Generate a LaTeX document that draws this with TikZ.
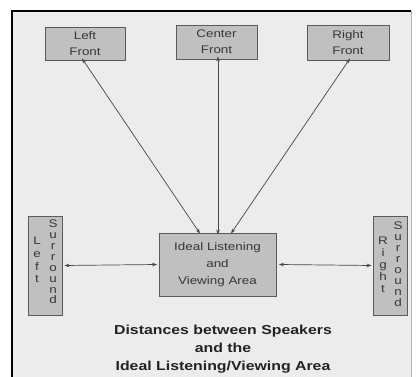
\documentclass[tikz,border=0pt]{standalone}
\usepackage{fontspec}
\setmainfont{Liberation Sans}[FakeStretch=1.22]
\usetikzlibrary{arrows.meta}
\definecolor{bgc}{RGB}{236,236,236}
\definecolor{boxfill}{RGB}{192,192,192}
\definecolor{boxline}{RGB}{90,90,90}
\definecolor{txtc}{RGB}{55,55,55}
\definecolor{arrc}{RGB}{70,70,70}
\tikzset{
  spk/.style={draw=boxline, line width=0.9pt, fill=boxfill, inner sep=0pt, align=center,
    text=txtc, font=\fontsize{11}{16}\selectfont},
  vtext/.style={inner sep=0pt, align=center, text=txtc},
  conn/.style={draw=arrc, line width=0.7pt, {Stealth[length=5pt,width=3.6pt]}-{Stealth[length=5pt,width=3.6pt]}},
}
\begin{document}
\begin{tikzpicture}[x=1pt,y=-1pt]
\useasboundingbox (0,0) rectangle (416,377);
\fill[white] (0,0) rectangle (416,377);
\fill[bgc] (12,11) rectangle (411,380);
\draw[black, line width=2.6pt] (12,380) -- (12,11) -- (411,11);
\draw[gray!60, line width=0.6pt] (411,11) -- (411,380);

\node[spk, minimum width=80pt, minimum height=33pt] (LF) at (85,43.5) {Left\\Front};
\node[spk, minimum width=81pt, minimum height=34pt] (CF) at (216.5,42) {Center\\Front};
\node[spk, minimum width=82pt, minimum height=35pt] (RF) at (348,42.5) {Right\\Front};
\node[spk, minimum width=117pt, minimum height=63pt, font=\fontsize{11}{17}\selectfont] (IA) at (217.5,264.5) {Ideal Listening\\and\\Viewing Area};
\node[spk, minimum width=34pt, minimum height=99pt] (LS) at (45.5,265.5) {};
\node[spk, minimum width=34pt, minimum height=99pt] (RS) at (390.5,265.5) {};

\node[vtext, font=\fontsize{11}{12.7}\selectfont] (LSa) at ([xshift=-8.5pt,yshift=5.5pt]LS.center) {L\\e\\f\\t};
\node[vtext, font=\fontsize{11}{10.9}\selectfont] (LSb) at ([xshift=7.5pt,yshift=3.5pt]LS.center) {S\\u\\r\\r\\o\\u\\n\\d};
\node[vtext, font=\fontsize{11}{12}\selectfont] (RSa) at ([xshift=-7.5pt,yshift=0.5pt]RS.center) {R\\i\\g\\h\\t};
\node[vtext, font=\fontsize{11}{11}\selectfont] (RSb) at ([xshift=7.5pt,yshift=1pt]RS.center) {S\\u\\r\\r\\o\\u\\n\\d};

\draw[conn] ([xshift=-3pt,yshift=2pt]LF.south) -- ([xshift=-17.5pt,yshift=-1pt]IA.north);
\draw[conn] ([xshift=1.5pt,yshift=3pt]CF.south) -- ([xshift=0.5pt,yshift=-2pt]IA.north);
\draw[conn] ([xshift=2pt,yshift=2pt]RF.south) -- ([xshift=13.5pt,yshift=-1pt]IA.north);
\draw[conn] ([xshift=1.5pt]LS.east) -- ([xshift=-1.5pt]IA.west);
\draw[conn] ([xshift=2.5pt]IA.east) -- ([xshift=-1.5pt]RS.west);

\node[inner sep=0pt, align=center, text={rgb,255:red,35;green,35;blue,35},
  font=\fontsize{13}{18}\bfseries\selectfont] (title) at (223,349)
  {Distances between Speakers\\and the\\Ideal Listening/Viewing Area};
\end{tikzpicture}
\end{document}
